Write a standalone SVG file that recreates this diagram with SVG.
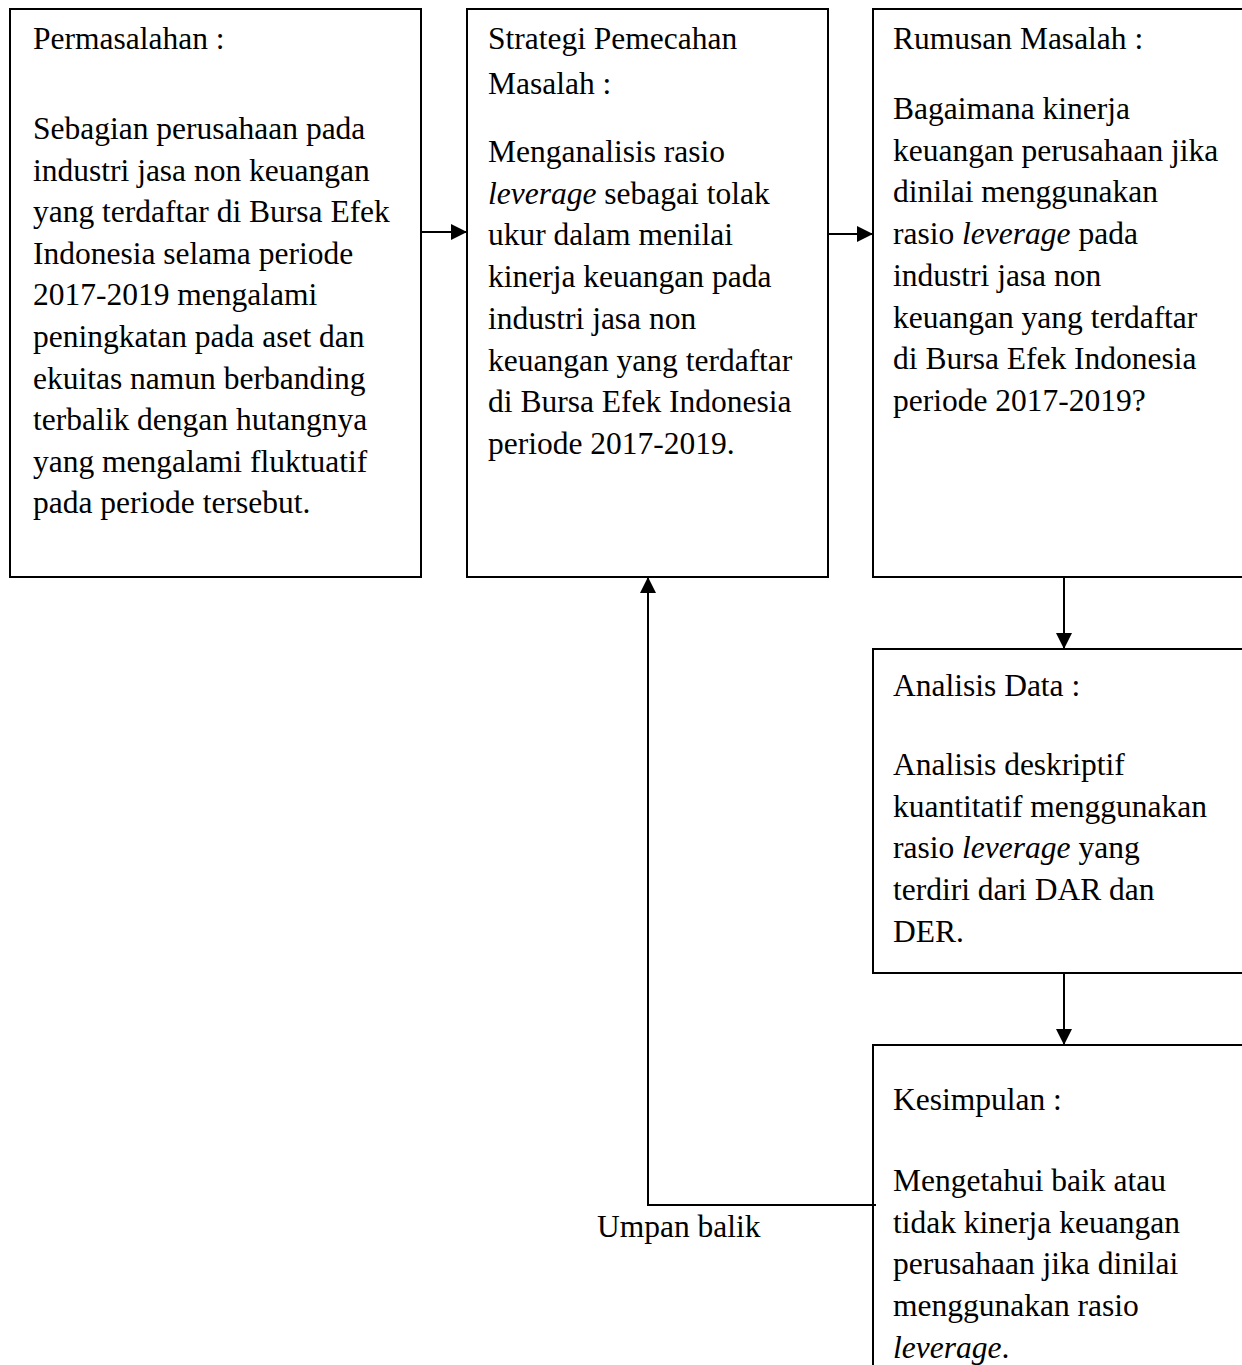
<svg xmlns="http://www.w3.org/2000/svg" width="1242" height="1365" viewBox="0 0 1242 1365">
<defs>
<marker id="ah" markerWidth="16" markerHeight="16" refX="16" refY="8" orient="auto" markerUnits="userSpaceOnUse" viewBox="0 0 16 16">
<path d="M0,0 L16,8 L0,16 Z" fill="#000"/>
</marker>
<style>
.box{fill:#fff;stroke:#000;stroke-width:2}
.t{font-family:"Liberation Serif","Times New Roman",serif;font-size:31.5px;fill:#000}
.c{fill:none;stroke:#000;stroke-width:2}
</style>
</defs>
<rect width="1242" height="1365" fill="#fff"/>
<g id="n1">
<rect class="box" x="10" y="9" width="411" height="568"/>
<text class="t" x="33" y="49">Permasalahan :</text>
<text class="t" x="33" y="139">Sebagian perusahaan pada</text>
<text class="t" x="33" y="180.6">industri jasa non keuangan</text>
<text class="t" x="33" y="222.2">yang terdaftar di Bursa Efek</text>
<text class="t" x="33" y="263.8">Indonesia selama periode</text>
<text class="t" x="33" y="305.4">2017-2019 mengalami</text>
<text class="t" x="33" y="347">peningkatan pada aset dan</text>
<text class="t" x="33" y="388.6">ekuitas namun berbanding</text>
<text class="t" x="33" y="430.2">terbalik dengan hutangnya</text>
<text class="t" x="33" y="471.8">yang mengalami fluktuatif</text>
<text class="t" x="33" y="513.4">pada periode tersebut.</text>
</g>
<g id="n2">
<rect class="box" x="467" y="9" width="361" height="568"/>
<text class="t" x="488" y="49">Strategi Pemecahan</text>
<text class="t" x="488" y="94">Masalah :</text>
<text class="t" x="488" y="162">Menganalisis rasio</text>
<text class="t" x="488" y="203.7"><tspan font-style="italic">leverage</tspan> sebagai tolak</text>
<text class="t" x="488" y="245.4">ukur dalam menilai</text>
<text class="t" x="488" y="287">kinerja keuangan pada</text>
<text class="t" x="488" y="328.8">industri jasa non</text>
<text class="t" x="488" y="370.5">keuangan yang terdaftar</text>
<text class="t" x="488" y="412.2">di Bursa Efek Indonesia</text>
<text class="t" x="488" y="454">periode 2017-2019.</text>
</g>
<g id="n3">
<rect class="box" x="873" y="9" width="380" height="568"/>
<text class="t" x="893" y="49">Rumusan Masalah :</text>
<text class="t" x="893" y="119">Bagaimana kinerja</text>
<text class="t" x="893" y="160.7">keuangan perusahaan jika</text>
<text class="t" x="893" y="202.4">dinilai menggunakan</text>
<text class="t" x="893" y="244">rasio <tspan font-style="italic">leverage</tspan> pada</text>
<text class="t" x="893" y="285.8">industri jasa non</text>
<text class="t" x="893" y="327.5">keuangan yang terdaftar</text>
<text class="t" x="893" y="369.2">di Bursa Efek Indonesia</text>
<text class="t" x="893" y="411">periode 2017-2019?</text>
</g>
<g id="n4">
<rect class="box" x="873" y="649" width="380" height="324"/>
<text class="t" x="893" y="696">Analisis Data :</text>
<text class="t" x="893" y="775">Analisis deskriptif</text>
<text class="t" x="893" y="816.7">kuantitatif menggunakan</text>
<text class="t" x="893" y="858.4">rasio <tspan font-style="italic">leverage</tspan> yang</text>
<text class="t" x="893" y="900">terdiri dari DAR dan</text>
<text class="t" x="893" y="941.8">DER.</text>
</g>
<g id="n5">
<rect class="box" x="873" y="1045" width="380" height="340"/>
<text class="t" x="893" y="1110">Kesimpulan :</text>
<text class="t" x="893" y="1191">Mengetahui baik atau</text>
<text class="t" x="893" y="1232.7">tidak kinerja keuangan</text>
<text class="t" x="893" y="1274.4">perusahaan jika dinilai</text>
<text class="t" x="893" y="1316">menggunakan rasio</text>
<text class="t" x="893" y="1357.8"><tspan font-style="italic">leverage</tspan>.</text>
</g>
<g id="connectors">
<line class="c" x1="421" y1="232" x2="467" y2="232" marker-end="url(#ah)"/>
<line class="c" x1="828" y1="234" x2="873" y2="234" marker-end="url(#ah)"/>
<line class="c" x1="1064" y1="577" x2="1064" y2="649" marker-end="url(#ah)"/>
<line class="c" x1="1064" y1="973" x2="1064" y2="1045" marker-end="url(#ah)"/>
<polyline class="c" points="876,1205 648,1205 648,577" marker-end="url(#ah)"/>
</g>
<text class="t" x="597" y="1237">Umpan balik</text>
</svg>
